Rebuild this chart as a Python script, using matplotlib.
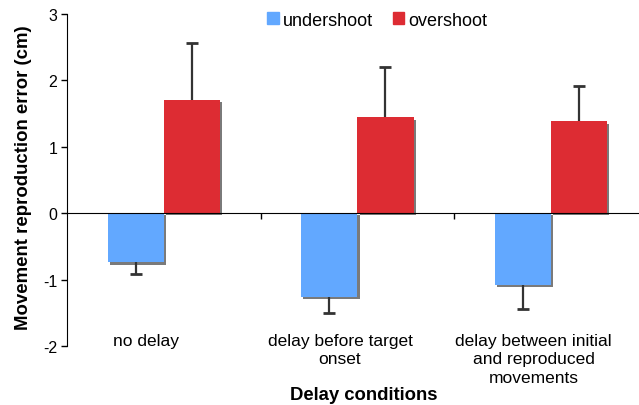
import numpy as np
import matplotlib.pyplot as plt
from matplotlib import patheffects as pe
from matplotlib.patches import Patch

plt.rcParams['font.family'] = ['Liberation Sans', 'DejaVu Sans']
plt.rcParams['axes.unicode_minus'] = False

conditions = ['no delay', 'delay before target\nonset',
              'delay between initial\nand reproduced\nmovements']
undershoot = [-0.74, -1.26, -1.08]
undershoot_err = [0.17, 0.24, 0.36]
overshoot = [1.70, 1.44, 1.38]
overshoot_err = [0.86, 0.76, 0.53]

blue = '#62a8ff'
red = '#dd2c33'
ecol = '#333333'

fig = plt.figure(figsize=(6.39, 4.06), dpi=100)
ax = fig.add_axes([0.105, 0.145, 0.895, 0.819])

x = np.arange(len(conditions))
w = 0.29
shadow = [pe.SimplePatchShadow(offset=(1.6, -1.6), shadow_rgbFace='#7a7a7a', alpha=1.0),
          pe.Normal()]

b1 = ax.bar(x - w / 2, undershoot, w, color=blue, zorder=3)
b2 = ax.bar(x + w / 2, overshoot, w, color=red, zorder=3)
for bars in (b1, b2):
    for p in bars:
        p.set_path_effects(shadow)

# one-sided error bars pointing away from zero, cap only at the far end
u = np.array(undershoot)
o = np.array(overshoot)
u_end = u - np.array(undershoot_err)
o_end = o + np.array(overshoot_err)
ax.vlines(x - w / 2, u_end, u, color=ecol, lw=1.6, zorder=4)
ax.vlines(x + w / 2, o, o_end, color=ecol, lw=1.6, zorder=4)
ax.plot(x - w / 2, u_end, ls='none', marker='_', ms=9, mew=2, color=ecol, zorder=4)
ax.plot(x + w / 2, o_end, ls='none', marker='_', ms=9, mew=2, color=ecol, zorder=4)

ax.set_xlim(-0.5, 2.455)
ax.set_ylim(-2, 3)
ax.set_yticks([-2, -1, 0, 1, 2, 3])
ax.tick_params(axis='y', labelsize=11.5, length=4, width=1, pad=3)

ax.spines['top'].set_visible(False)
ax.spines['right'].set_visible(False)
ax.spines['bottom'].set_position(('data', 0))
ax.spines['bottom'].set_zorder(5)
ax.set_xticks([0.5, 1.5])
ax.set_xticklabels([])
ax.tick_params(axis='x', direction='out', length=4, width=1)

for xi, lab in zip(x, conditions):
    ax.text(xi - 0.09, -1.80, lab, ha='center', va='top', fontsize=12.5,
            linespacing=1.3, multialignment='center')

fig.text(364 / 639, 1 - 396 / 406, 'Delay conditions', ha='center', va='center',
         fontsize=13.3, fontweight='bold')
fig.text(24 / 639, 1 - 178 / 406, 'Movement reproduction error (cm)', ha='center',
         va='center', rotation=90, fontsize=13.4, fontweight='bold')

handles = [Patch(color=blue, label='undershoot'), Patch(color=red, label='overshoot')]
fig.legend(handles=handles, loc='center', bbox_to_anchor=(0.59, 0.948), ncol=2,
           frameon=False, fontsize=13, handlelength=0.65, handleheight=0.65,
           handletextpad=0.2, columnspacing=1.1)

fig.savefig('out.png', dpi=100)
